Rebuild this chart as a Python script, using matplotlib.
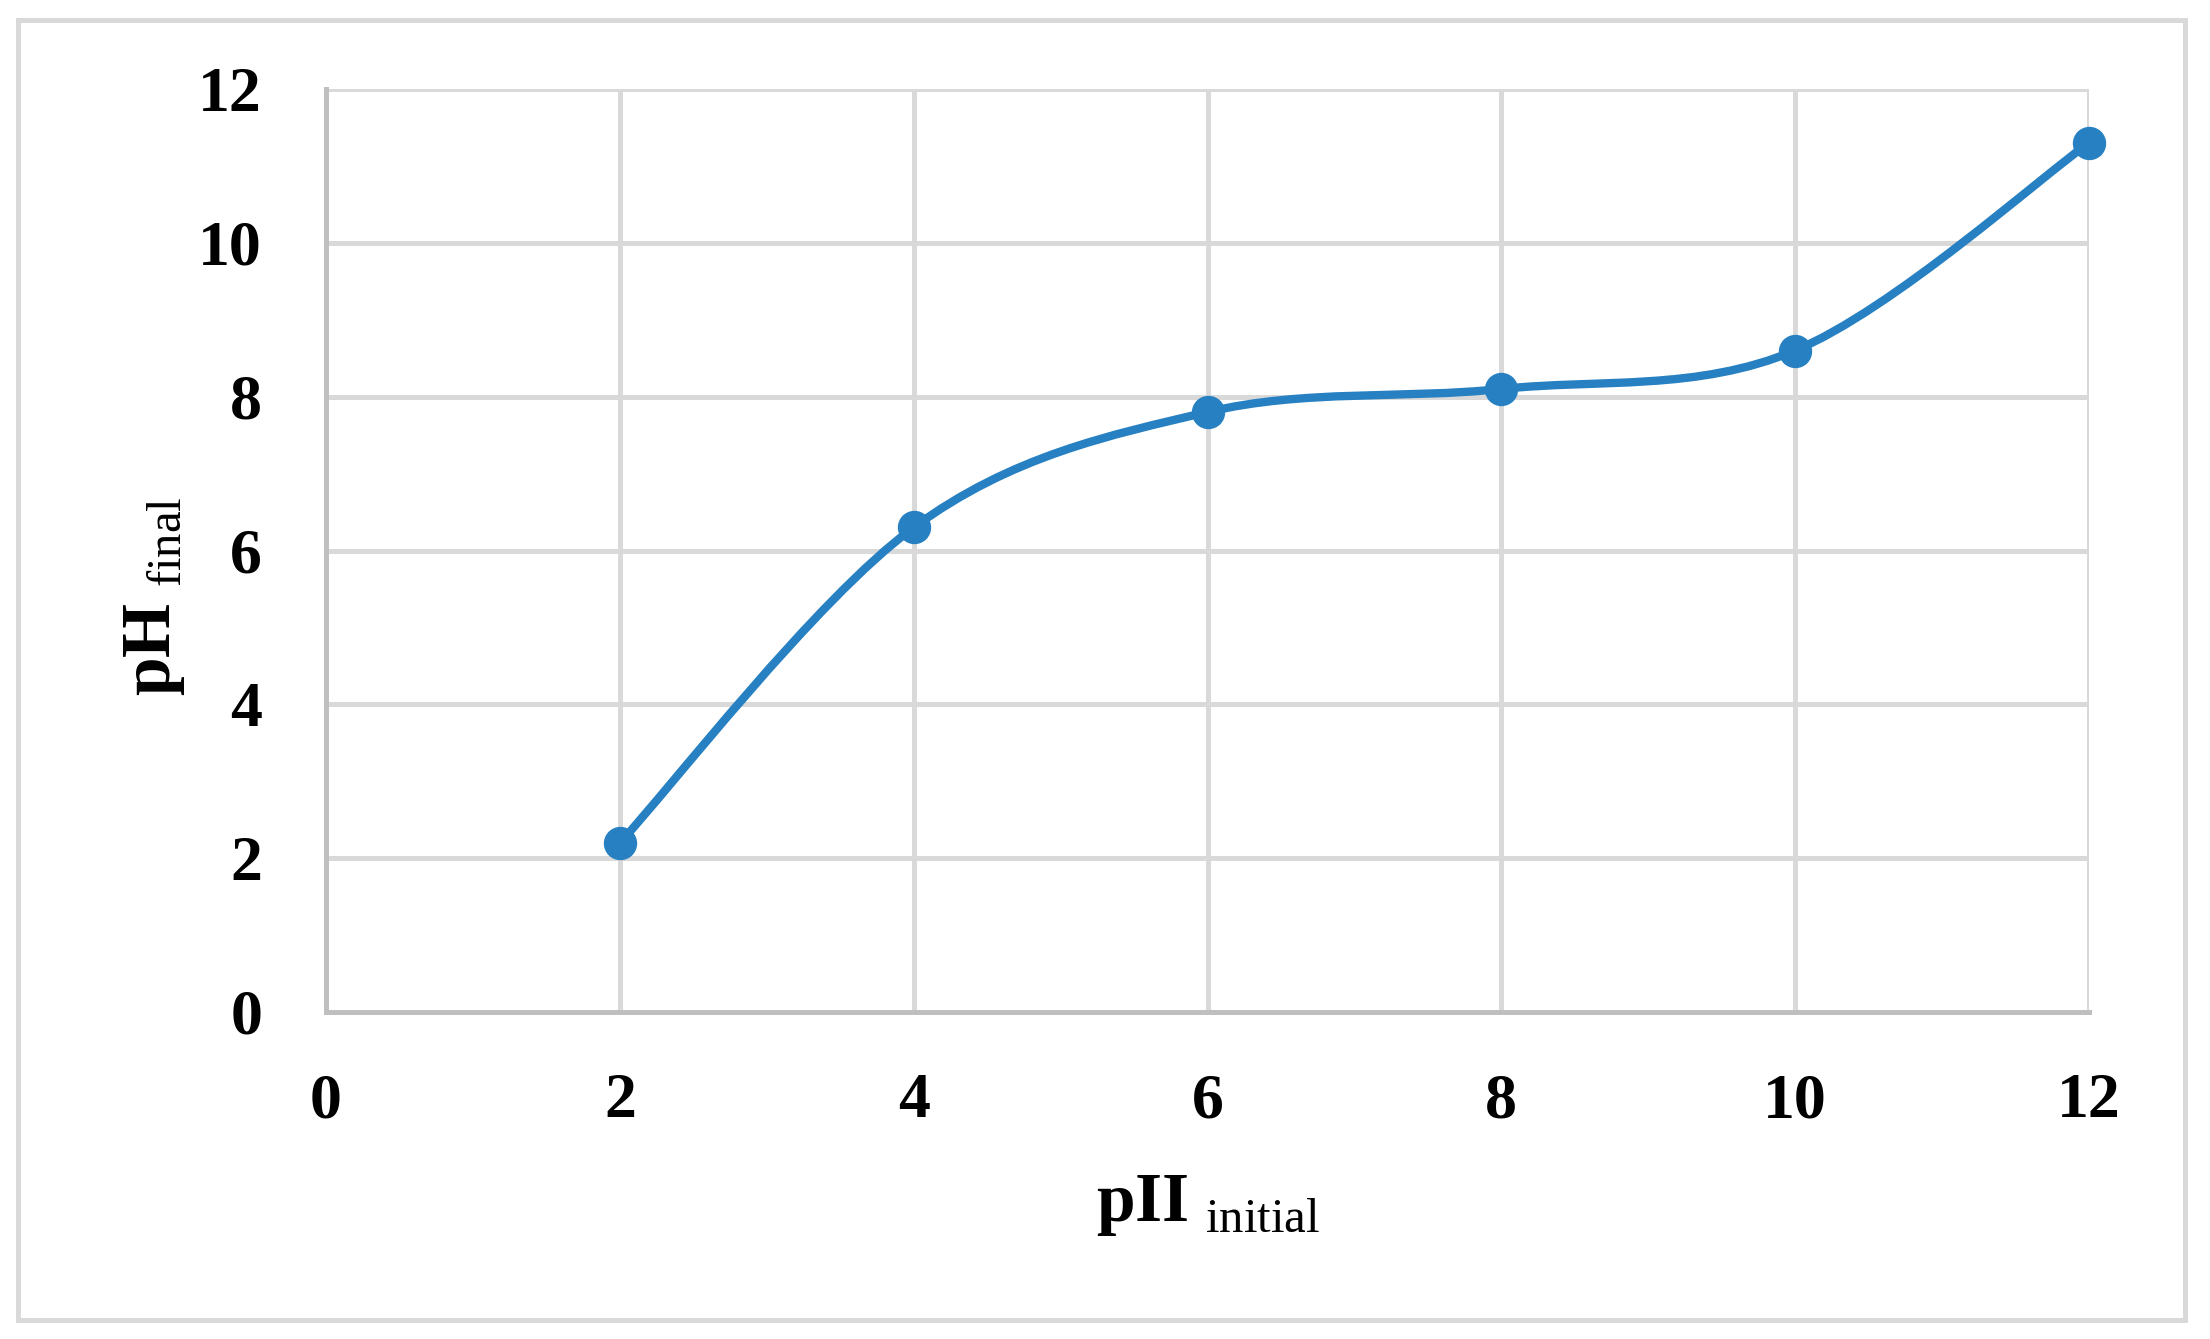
import matplotlib
matplotlib.use("Agg")
from matplotlib import pyplot as plt
from matplotlib.path import Path
from matplotlib.patches import PathPatch, Rectangle
import numpy as np

ph_initial = [2, 4, 6, 8, 10, 12]
ph_final = [2.2, 6.3, 7.8, 8.1, 8.6, 11.3]
ticks = [0, 2, 4, 6, 8, 10, 12]

blue = "#2680c2"
grid_gray = "#d9d9d9"
axis_gray = "#bfbfbf"

plt.rcParams["font.family"] = ["Liberation Serif", "DejaVu Serif"]
plt.rcParams["mathtext.fontset"] = "custom"
plt.rcParams["mathtext.rm"] = "Liberation Serif:normal"
plt.rcParams["mathtext.bf"] = "Liberation Serif:bold"

fig = plt.figure(figsize=(22.1, 13.39), dpi=100)
ax = fig.add_axes([326 / 2210, 1 - 1012 / 1339, (2089 - 326) / 2210, (1012 - 89) / 1339])

# outer chart border
fig.patches.append(Rectangle((18 / 2210, 1 - 1320 / 1339), (2185 - 18) / 2210, (1320 - 20) / 1339,
                             transform=fig.transFigure, fill=False, edgecolor=grid_gray, linewidth=3.6))

# smoothed line (Excel-like bezier through the points)
x = np.array(ph_initial, dtype=float)
y = np.array(ph_final, dtype=float)
pts = np.column_stack([x, y])
ext = np.vstack([pts[0], pts, pts[-1]])
verts = [tuple(pts[0])]
codes = [Path.MOVETO]
for i in range(len(pts) - 1):
    p0, p1, p2, p3 = ext[i], ext[i + 1], ext[i + 2], ext[i + 3]
    c1 = p1 + (p2 - p0) / 6
    c2 = p2 - (p3 - p1) / 6
    verts += [tuple(c1), tuple(c2), tuple(p2)]
    codes += [Path.CURVE4] * 3
ax.add_patch(PathPatch(Path(verts, codes), facecolor="none", edgecolor=blue, linewidth=6,
                       capstyle="round", joinstyle="round", zorder=3))
ax.plot(x, y, linestyle="none", marker="o", markersize=23, color=blue, zorder=4, clip_on=False)

ax.set_xlim(0, 12)
ax.set_ylim(0, 12)
ax.set_xticks(ticks)
ax.set_yticks(ticks)
ax.grid(True, color=grid_gray, linewidth=3.6, zorder=0)
ax.set_axisbelow(True)
for s in ["top", "right"]:
    ax.spines[s].set_visible(False)
for s in ["left", "bottom"]:
    ax.spines[s].set_color(axis_gray)
    ax.spines[s].set_linewidth(3.6)
    ax.spines[s].set_zorder(1)
ax.tick_params(length=0, labelsize=46, pad=0)
ax.tick_params(axis="y", pad=46)
ax.tick_params(axis="x", pad=44)
for lb in ax.get_xticklabels() + ax.get_yticklabels():
    lb.set_fontweight("bold")

ax.set_xlabel(r"$\mathbf{pII}_{\ \mathrm{initial}}$", fontsize=50, labelpad=30)
ax.set_ylabel(r"$\mathbf{pH}_{\ \mathrm{final}}$", fontsize=50)
ax.yaxis.set_label_coords(-0.079, 0.45)

fig.savefig("out.png", dpi=100)
